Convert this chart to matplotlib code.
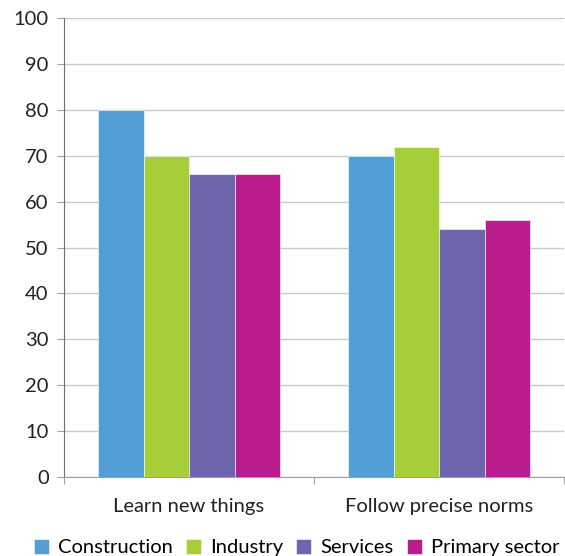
import numpy as np
import matplotlib.pyplot as plt

categories = ['Learn new things', 'Follow precise norms']
series = ['Construction', 'Industry', 'Services', 'Primary sector']
values = {
    'Construction': [80, 70],
    'Industry': [70, 72],
    'Services': [66, 54],
    'Primary sector': [66, 56],
}
colors = ['#529fd6', '#a6ce39', '#6d66ae', '#bb1e8c']

plt.rcParams['font.family'] = ['Lato', 'DejaVu Sans']

fig = plt.figure(figsize=(5.65, 5.56), dpi=100)
ax = fig.add_axes([0.1133, 0.1421, 0.885, 0.8255])

x = np.arange(len(categories))
w = 0.182
for i, s in enumerate(series):
    ax.bar(x + (i - 1.5) * w, values[s], w, color=colors[i], label=s,
           edgecolor='white', linewidth=0.4, zorder=3)

ax.set_xlim(-0.5, 1.5)
ax.set_ylim(0, 100)
ax.set_yticks(range(0, 101, 10))
ax.set_xticks([-0.5, 0.5, 1.5], minor=False)
ax.set_xticklabels([])
ax.set_xticks(x, minor=True)
ax.set_xticklabels(categories, minor=True, fontsize=14.5, color='#222222')
ax.tick_params(axis='x', which='minor', length=0, pad=15)
ax.tick_params(axis='x', which='major', length=5, color='#a0a0a0')
ax.tick_params(axis='y', length=5, color='#a0a0a0', labelsize=14.5, labelcolor='#222222', pad=6)
ax.grid(axis='y', color='#c8c8c8', linewidth=1, zorder=0)
for sp in ['top', 'right']:
    ax.spines[sp].set_visible(False)
ax.spines['left'].set_color('#707070')
ax.spines['bottom'].set_color('#a0a0a0')

ax.legend(loc='upper center', bbox_to_anchor=(0.465, -0.135), ncol=4, frameon=False,
          fontsize=14.5, handlelength=0.75, handleheight=0.75, handletextpad=0.45,
          columnspacing=0.65, borderaxespad=0, borderpad=0)

fig.savefig('out.png', dpi=100)
